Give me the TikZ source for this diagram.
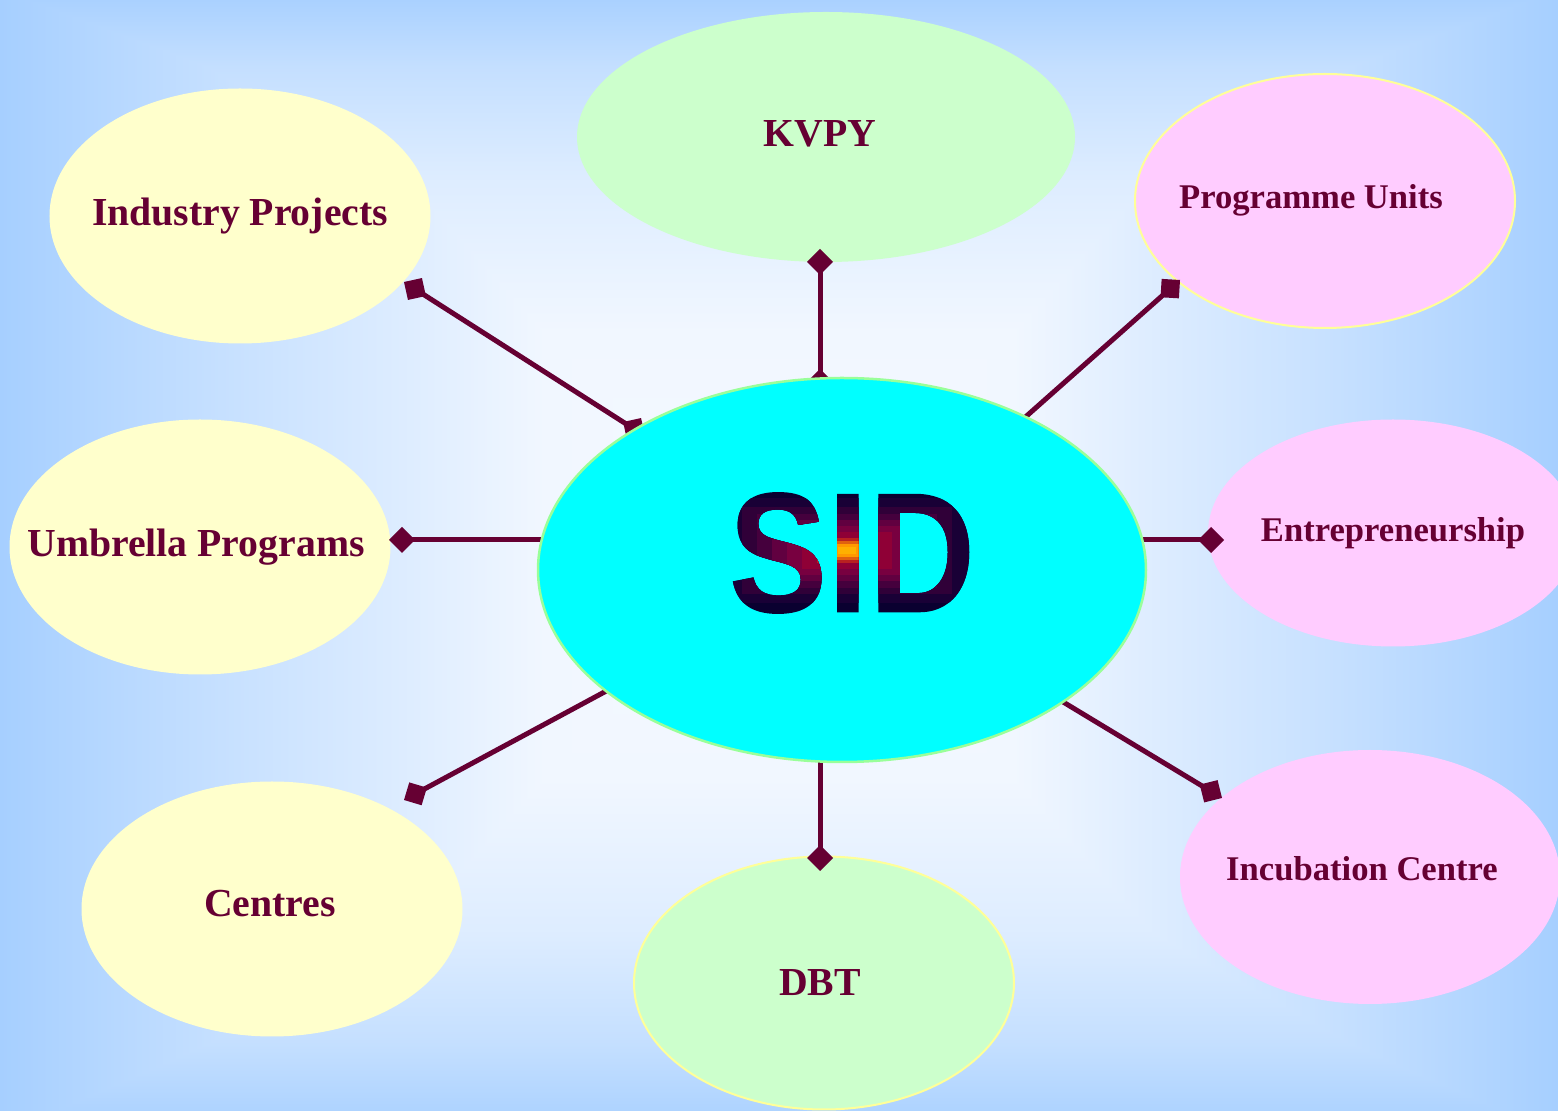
\documentclass[tikz,border=0pt]{standalone}
\usepackage{fontspec}
\setmainfont{Liberation Serif}
\newfontfamily\sidfamily[FakeStretch=0.86]{Liberation Sans}
\usetikzlibrary{shapes.geometric,arrows.meta}

\definecolor{bgblue}{HTML}{A6CFFF}
\definecolor{bgwhite}{HTML}{F5F9FF}
\definecolor{wine}{HTML}{660033}
\definecolor{hubcyan}{HTML}{00FFFF}
\definecolor{hubrim}{HTML}{99FF99}
\definecolor{paleyellow}{HTML}{FFFFCC}
\definecolor{palegreen}{HTML}{CCFFCC}
\definecolor{palepink}{HTML}{FFCCFF}
\definecolor{rimyellow}{HTML}{FFFF99}
\definecolor{sidnavy}{HTML}{0A0030}

\newcommand{\bigfont}{\fontsize{11.3}{13}\selectfont\bfseries}
\newcommand{\smallfont}{\fontsize{9.85}{11.5}\selectfont\bfseries}
\newcommand{\sidfont}{\sidfamily\fontsize{49}{50}\selectfont\bfseries}
\newcommand{\inside}[3]{\makebox[0pt]{\hspace*{#1}\hspace*{#1}\raisebox{#2}{#3}}}
% SID glyphs as a clip, then a stepped centre gradient inside them
\newcommand{\sidglow}{\rlap{\special{pdf:code 7 Tr}SID\special{pdf:code 0 Tr}}%
  \special{pdf:content 0.04 0 0.19 rg -10 -10 90 55 re f
    0.1 0 0.21 rg -2.4 2.63 72.25 29.75 re f
    0.19 0 0.22 rg 3.95 5.25 59.5 24.5 re f
    0.27 0 0.24 rg 8.2 7 51 21 re f
    0.38 0 0.25 rg 12.45 8.75 42.5 17.5 re f
    0.47 0 0.25 rg 16.7 10.5 34 14 re f
    0.56 0 0.21 rg 20.95 12.25 25.5 10.5 re f
    0.72 0.13 0.13 rg 25.2 14 17 7 re f
    0.88 0.38 0.06 rg 27.33 14.88 12.75 5.25 re f
    1 0.6 0 rg 29.45 15.75 8.5 3.5 re f
    1 0.69 0 rg 31.15 16.45 5.1 2.1 re f}%
  \phantom{SID}}

\pgfdeclarehorizontalshading{bgacross}{100bp}{color(0bp)=(bgblue); color(25bp)=(bgblue); color(32bp)=(bgblue!60!bgwhite); color(38bp)=(bgblue!30!bgwhite); color(42.5bp)=(bgblue!5!bgwhite); color(50bp)=(bgwhite); color(57.5bp)=(bgblue!5!bgwhite); color(62bp)=(bgblue!30!bgwhite); color(68bp)=(bgblue!60!bgwhite); color(75bp)=(bgblue); color(100bp)=(bgblue)}
\pgfdeclareverticalshading{bgdown}{100bp}{color(0bp)=(bgblue!90!bgwhite); color(25bp)=(bgblue!90!bgwhite); color(28bp)=(bgblue!62!bgwhite); color(33bp)=(bgblue!30!bgwhite); color(40bp)=(bgblue!5!bgwhite); color(50bp)=(bgwhite); color(60bp)=(bgblue!5!bgwhite); color(67bp)=(bgblue!30!bgwhite); color(72bp)=(bgblue!62!bgwhite); color(75bp)=(bgblue!95!bgwhite); color(100bp)=(bgblue!95!bgwhite)}

\begin{document}
\begin{tikzpicture}
        \tikzstyle{every node}=[ellipse, inner sep=0pt, text=wine, font=\bigfont]
        \tikzstyle{ybubble}=[fill=paleyellow, minimum width=3.81cm, minimum height=2.55cm]
        \tikzstyle{gbubble}=[fill=palegreen, minimum width=3.80cm, minimum height=2.53cm]
        \tikzstyle{pbubble}=[fill=palepink, minimum width=3.80cm, minimum height=2.54cm, font=\smallfont]
        \tikzstyle{hub}=[fill=hubcyan, draw=hubrim, line width=0.025cm, minimum width=6.08cm, minimum height=3.84cm]
        \tikzstyle{link}=[wine, line width=0.05cm, {Turned Square[length=0.26cm,width=0.26cm]}-{Turned Square[length=0.26cm,width=0.26cm]}]

        \useasboundingbox (0,0) rectangle (15.58,11.11);
        \clip (0,0) rectangle (15.58,11.11);
        \begin{scope}[blend group=darken]
            \shade[shading=bgacross] (0,0) rectangle (15.58,11.11);
            \shade[shading=bgdown] (0,0) rectangle (15.58,11.11);
        \end{scope}

        \node[ybubble] (ind)  at (2.40,8.95)  {\inside{0cm}{0cm}{Industry Projects}};
        \node[gbubble, minimum width=4.98cm, minimum height=2.50cm] (kvpy) at (8.26,9.74) {\inside{-0.06cm}{0.06cm}{KVPY}};
        \node[pbubble, draw=rimyellow, line width=0.02cm] (prog) at (13.25,9.10) {\inside{-0.14cm}{0.10cm}{Programme Units}};
        \node[ybubble] (umb)  at (2.00,5.64)  {\inside{-0.04cm}{-0.06cm}{Umbrella Programs}};
        \node[pbubble, minimum width=3.70cm, minimum height=2.27cm] (ent) at (13.93,5.78) {\inside{0cm}{-0.04cm}{Entrepreneurship}};
        \node[ybubble] (cen)  at (2.72,2.02)  {\inside{-0.02cm}{0.12cm}{Centres}};
        \node[gbubble, draw=rimyellow, line width=0.02cm] (dbt) at (8.24,1.28) {\inside{-0.04cm}{0cm}{DBT}};
        \node[pbubble] (inc)  at (13.70,2.34) {\inside{-0.08cm}{0.17cm}{Incubation Centre}};

        \coordinate (ind-in)  at (6.45,6.75);   \coordinate (ind-out)  at (4.04,8.29);
        \coordinate (kvpy-in) at (8.20,7.16);   \coordinate (kvpy-out) at (8.20,8.62);
        \coordinate (prog-in) at (9.95,6.67);   \coordinate (prog-out) at (11.80,8.31);
        \coordinate (ent-in)  at (11.10,5.71);  \coordinate (ent-out)  at (12.24,5.71);
        \coordinate (umb-in)  at (5.75,5.71);   \coordinate (umb-out)  at (3.89,5.71);
        \coordinate (cen-in)  at (6.36,4.36);   \coordinate (cen-out)  at (4.04,3.11);
        \coordinate (dbt-in)  at (8.20,3.81);   \coordinate (dbt-out)  at (8.20,2.40);
        \coordinate (inc-in)  at (10.35,4.26);  \coordinate (inc-out)  at (12.22,3.13);

        \draw[link] (ind-in) -- (ind-out);
        \draw[link] (kvpy-in) -- (kvpy-out);
        \draw[link] (prog-in) -- (prog-out);
        \draw[link] (ent-in) -- (ent-out);
        \draw[link] (umb-in) -- (umb-out);
        \draw[link] (cen-in) -- (cen-out);
        \draw[link] (dbt-in) -- (dbt-out);
        \draw[link] (inc-in) -- (inc-out);

        \node[hub] (sid) at (8.42,5.41) {};
        \node[rectangle, text=sidnavy, font=\sidfont] (sidword) at (8.52,5.58) {\sidglow};
    \end{tikzpicture}
\end{document}
